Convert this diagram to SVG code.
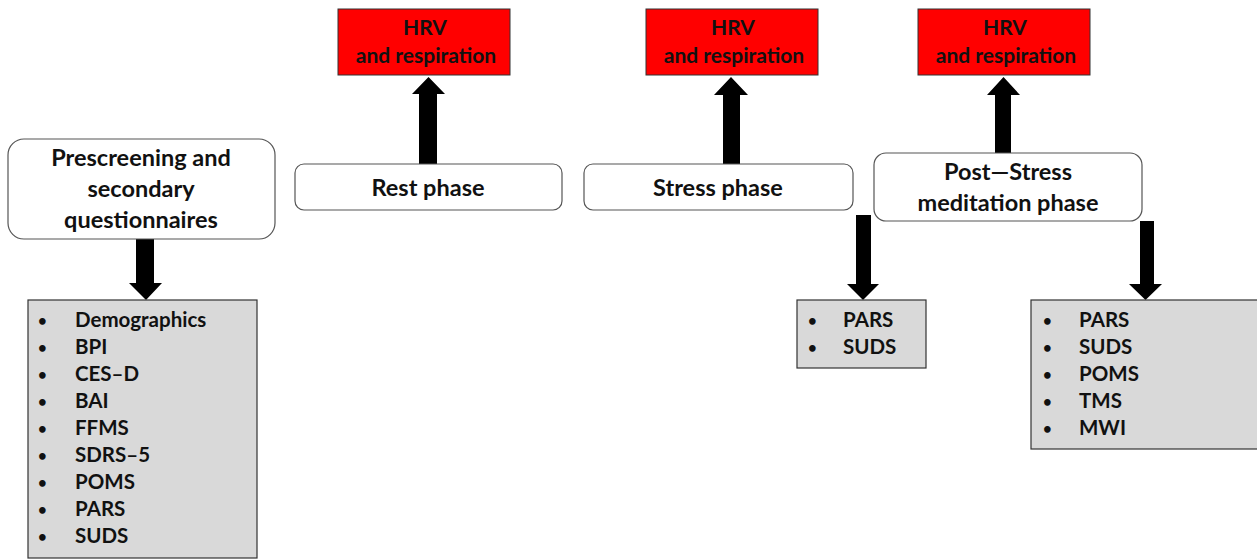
<svg xmlns="http://www.w3.org/2000/svg" width="1257" height="559" viewBox="0 0 1257 559">
<style>
.phase{fill:#ffffff;stroke:#555555;stroke-width:1.2}
.red{fill:#ff0000;stroke:#333333;stroke-width:1}
.grey{fill:#d9d9d9;stroke:#333333;stroke-width:1.2}
.arrow{fill:#000000}
text{font-family:Lato,"Open Sans","Liberation Sans",sans-serif;font-weight:bold;fill:#111111}
.h{font-size:23.5px;text-anchor:middle}
.r{font-size:21px;text-anchor:middle}
.li{font-size:20.5px}
.b{font-size:15px}
</style>
<rect width="1257" height="559" fill="#ffffff"/>
<g id="connectors">
<polygon class="arrow" points="136,239 154,239 154,283 162,283 146,300 129,283 136,283"/>
<polygon class="arrow" points="419,164 437,164 437,94 445,94 428.5,77 412,94 419,94"/>
<polygon class="arrow" points="723,164 740,164 740,95 748,95 731,77 714,95 723,95"/>
<polygon class="arrow" points="995,153 1011,153 1011,95 1020,95 1003.5,77 987,95 995,95"/>
<polygon class="arrow" points="856,215 871,215 871,284 879,284 863,300 847,284 856,284"/>
<polygon class="arrow" points="1140,221 1154,221 1154,284 1162,284 1145.5,300 1129,284 1140,284"/>
</g>
<g id="prescreening">
<rect class="phase" x="8" y="139" width="267" height="100" rx="16"/>
<text class="h" x="141" y="166">Prescreening and</text>
<text class="h" x="141" y="197">secondary</text>
<text class="h" x="141" y="228">questionnaires</text>
</g>
<g id="list1">
<rect class="grey" x="28" y="300" width="229" height="258"/>
<text class="li"><tspan class="b" x="38" y="326">•</tspan><tspan x="75" y="327">Demographics</tspan></text>
<text class="li"><tspan class="b" x="38" y="353">•</tspan><tspan x="75" y="354">BPI</tspan></text>
<text class="li"><tspan class="b" x="38" y="380">•</tspan><tspan x="75" y="381">CES–D</tspan></text>
<text class="li"><tspan class="b" x="38" y="407">•</tspan><tspan x="75" y="408">BAI</tspan></text>
<text class="li"><tspan class="b" x="38" y="434">•</tspan><tspan x="75" y="435">FFMS</tspan></text>
<text class="li"><tspan class="b" x="38" y="461">•</tspan><tspan x="75" y="462">SDRS–5</tspan></text>
<text class="li"><tspan class="b" x="38" y="488">•</tspan><tspan x="75" y="489">POMS</tspan></text>
<text class="li"><tspan class="b" x="38" y="515">•</tspan><tspan x="75" y="516">PARS</tspan></text>
<text class="li"><tspan class="b" x="38" y="542">•</tspan><tspan x="75" y="543">SUDS</tspan></text>
</g>
<g id="rest">
<rect class="phase" x="295" y="164" width="267" height="46" rx="9"/>
<text class="h" x="428" y="196">Rest phase</text>
</g>
<g id="hrv1">
<rect class="red" x="338" y="9" width="172" height="66"/>
<text class="r" x="425" y="35">HRV</text>
<text class="r" x="426" y="63">and respiration</text>
</g>
<g id="stress">
<rect class="phase" x="584" y="164" width="269" height="46" rx="9"/>
<text class="h" x="718" y="196">Stress phase</text>
</g>
<g id="hrv2">
<rect class="red" x="646" y="9" width="172" height="66"/>
<text class="r" x="733" y="35">HRV</text>
<text class="r" x="734" y="63">and respiration</text>
</g>
<g id="poststress">
<rect class="phase" x="874" y="153" width="268" height="68" rx="12"/>
<text class="h" x="1008" y="180">Post—Stress</text>
<text class="h" x="1008" y="211">meditation phase</text>
</g>
<g id="hrv3">
<rect class="red" x="918" y="9" width="172" height="66"/>
<text class="r" x="1005" y="35">HRV</text>
<text class="r" x="1006" y="63">and respiration</text>
</g>
<g id="list2">
<rect class="grey" x="797" y="300" width="129" height="68"/>
<text class="li"><tspan class="b" x="808" y="326">•</tspan><tspan x="843" y="327">PARS</tspan></text>
<text class="li"><tspan class="b" x="808" y="353">•</tspan><tspan x="843" y="354">SUDS</tspan></text>
</g>
<g id="list3">
<rect class="grey" x="1031" y="300" width="230" height="149"/>
<text class="li"><tspan class="b" x="1043" y="326">•</tspan><tspan x="1079" y="327">PARS</tspan></text>
<text class="li"><tspan class="b" x="1043" y="353">•</tspan><tspan x="1079" y="354">SUDS</tspan></text>
<text class="li"><tspan class="b" x="1043" y="380">•</tspan><tspan x="1079" y="381">POMS</tspan></text>
<text class="li"><tspan class="b" x="1043" y="407">•</tspan><tspan x="1079" y="408">TMS</tspan></text>
<text class="li"><tspan class="b" x="1043" y="434">•</tspan><tspan x="1079" y="435">MWI</tspan></text>
</g>
</svg>
